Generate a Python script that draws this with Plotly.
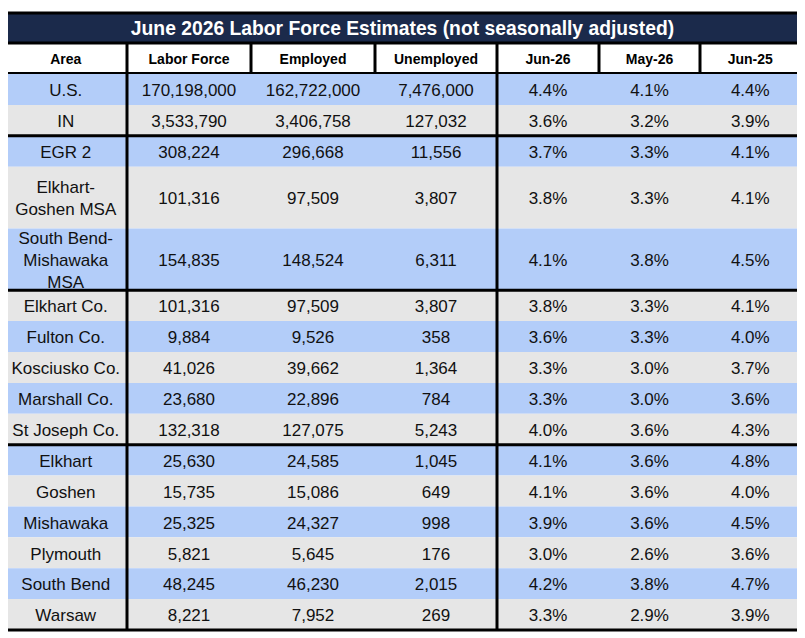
import plotly.graph_objects as go

# ---------------- data ----------------
title = "June 2026 Labor Force Estimates (not seasonally adjusted)"
columns = ["Area", "Labor Force", "Employed", "Unemployed", "Jun-26", "May-26", "Jun-25"]
areas = ["U.S.", "IN", "EGR 2", "Elkhart-<br>Goshen MSA", "South Bend-<br>Mishawaka<br>MSA",
         "Elkhart Co.", "Fulton Co.", "Kosciusko Co.", "Marshall Co.", "St Joseph Co.",
         "Elkhart", "Goshen", "Mishawaka", "Plymouth", "South Bend", "Warsaw"]
labor_force = [170198000, 3533790, 308224, 101316, 154835,
               101316, 9884, 41026, 23680, 132318,
               25630, 15735, 25325, 5821, 48245, 8221]
employed = [162722000, 3406758, 296668, 97509, 148524,
            97509, 9526, 39662, 22896, 127075,
            24585, 15086, 24327, 5645, 46230, 7952]
unemployed = [7476000, 127032, 11556, 3807, 6311,
              3807, 358, 1364, 784, 5243,
              1045, 649, 998, 176, 2015, 269]
rate_jun26 = [4.4, 3.6, 3.7, 3.8, 4.1, 3.8, 3.6, 3.3, 3.3, 4.0, 4.1, 4.1, 3.9, 3.0, 4.2, 3.3]
rate_may26 = [4.1, 3.2, 3.3, 3.3, 3.8, 3.3, 3.3, 3.0, 3.0, 3.6, 3.6, 3.6, 3.6, 2.6, 3.8, 2.9]
rate_jun25 = [4.4, 3.9, 4.1, 4.1, 4.5, 4.1, 4.0, 3.7, 3.6, 4.3, 4.8, 4.0, 4.5, 3.6, 4.7, 3.9]
group_sizes = [2, 3, 5, 6]

# ---------------- layout constants ----------------
W, H = 805, 638
PAGE_OFFSET = 8  # default body margin of the html page
col_edges = [4.5, 127, 251, 375, 497, 599, 700, 800.5]
top, title_bottom, header_bottom, bottom = 13, 43, 73, 630
row_units = [2 if "<br>" in a else 1 for a in areas]
unit = (bottom - header_bottom - 1) / sum(row_units)
NAVY, BLUE, GRAY = "#1b2a4b", "#b3cdf9", "#e6e6e6"
FONT = "Liberation Sans, Arial, sans-serif"
TEXT_DY = 2.5

# row boundaries
row_tops = []
y = header_bottom + 1
for u in row_units:
    row_tops.append(y)
    y += u * unit
row_bots = [t + u * unit for t, u in zip(row_tops, row_units)]
row_mid = [(t + b) / 2 for t, b in zip(row_tops, row_bots)]
col_mid = [(col_edges[i] + col_edges[i + 1]) / 2 for i in range(len(columns))]

shapes = []
# title band and header band
shapes.append(dict(type="rect", x0=col_edges[0], x1=col_edges[-1], y0=top, y1=title_bottom,
                   fillcolor=NAVY, line_width=0, layer="below"))
shapes.append(dict(type="rect", x0=col_edges[0], x1=col_edges[-1], y0=title_bottom, y1=header_bottom,
                   fillcolor="white", line_width=0, layer="below"))
# row fills
for i, (t, b) in enumerate(zip(row_tops, row_bots)):
    shapes.append(dict(type="rect", x0=col_edges[0], x1=col_edges[-1], y0=t, y1=b,
                       fillcolor=BLUE if i % 2 == 0 else GRAY, line_width=0, layer="below"))

line = dict(color="black", width=3)
# horizontal lines
shapes.append(dict(type="line", x0=col_edges[0], x1=col_edges[-1], y0=title_bottom, y1=title_bottom, line=line))
shapes.append(dict(type="line", x0=col_edges[0], x1=col_edges[-1], y0=header_bottom, y1=header_bottom,
                   line=dict(color="black", width=2)))
idx = 0
for g in group_sizes[:-1]:
    idx += g
    yy = row_tops[idx]
    shapes.append(dict(type="line", x0=col_edges[0], x1=col_edges[-1], y0=yy, y1=yy, line=line))
# vertical lines
for i, xx in enumerate(col_edges[1:-1], start=1):
    y_end = bottom if i in (1, 4) else header_bottom
    shapes.append(dict(type="line", x0=xx, x1=xx, y0=title_bottom, y1=y_end, line=line))
# outer border
shapes.append(dict(type="rect", x0=col_edges[0], x1=col_edges[-1], y0=top, y1=bottom, line=line,
                   fillcolor="rgba(0,0,0,0)"))

fig = go.Figure()

# title
fig.add_trace(go.Scatter(x=[(col_edges[0] + col_edges[-1]) / 2], y=[(top + title_bottom) / 2 + TEXT_DY],
                         mode="text", text=[f"<b>{title}</b>"],
                         textfont=dict(family=FONT, size=19.3, color="white"),
                         hoverinfo="skip", showlegend=False))
# header
fig.add_trace(go.Scatter(x=col_mid, y=[(title_bottom + header_bottom) / 2 + TEXT_DY] * len(columns),
                         mode="text", text=[f"<b>{c}</b>" for c in columns],
                         textfont=dict(family=FONT, size=14, color="black"),
                         hoverinfo="skip", showlegend=False))

col_values = [
    areas,
    [f"{v:,}" for v in labor_force],
    [f"{v:,}" for v in employed],
    [f"{v:,}" for v in unemployed],
    [f"{v:.1f}%" for v in rate_jun26],
    [f"{v:.1f}%" for v in rate_may26],
    [f"{v:.1f}%" for v in rate_jun25],
]
for ci, vals in enumerate(col_values):
    fig.add_trace(go.Scatter(x=[col_mid[ci]] * len(vals), y=[m + TEXT_DY for m in row_mid],
                             mode="text", text=vals,
                             textfont=dict(family=FONT, size=17, color="#111111"),
                             hoverinfo="skip", showlegend=False))

fig.update_layout(
    width=W, height=H, margin=dict(l=0, r=0, t=0, b=0),
    paper_bgcolor="white", plot_bgcolor="white",
    xaxis=dict(range=[PAGE_OFFSET, W + PAGE_OFFSET], visible=False, fixedrange=True),
    yaxis=dict(range=[H + PAGE_OFFSET, PAGE_OFFSET], visible=False, fixedrange=True),
    shapes=shapes, hovermode=False, showlegend=False,
)
fig.write_html("out.html", config={"displayModeBar": False})
